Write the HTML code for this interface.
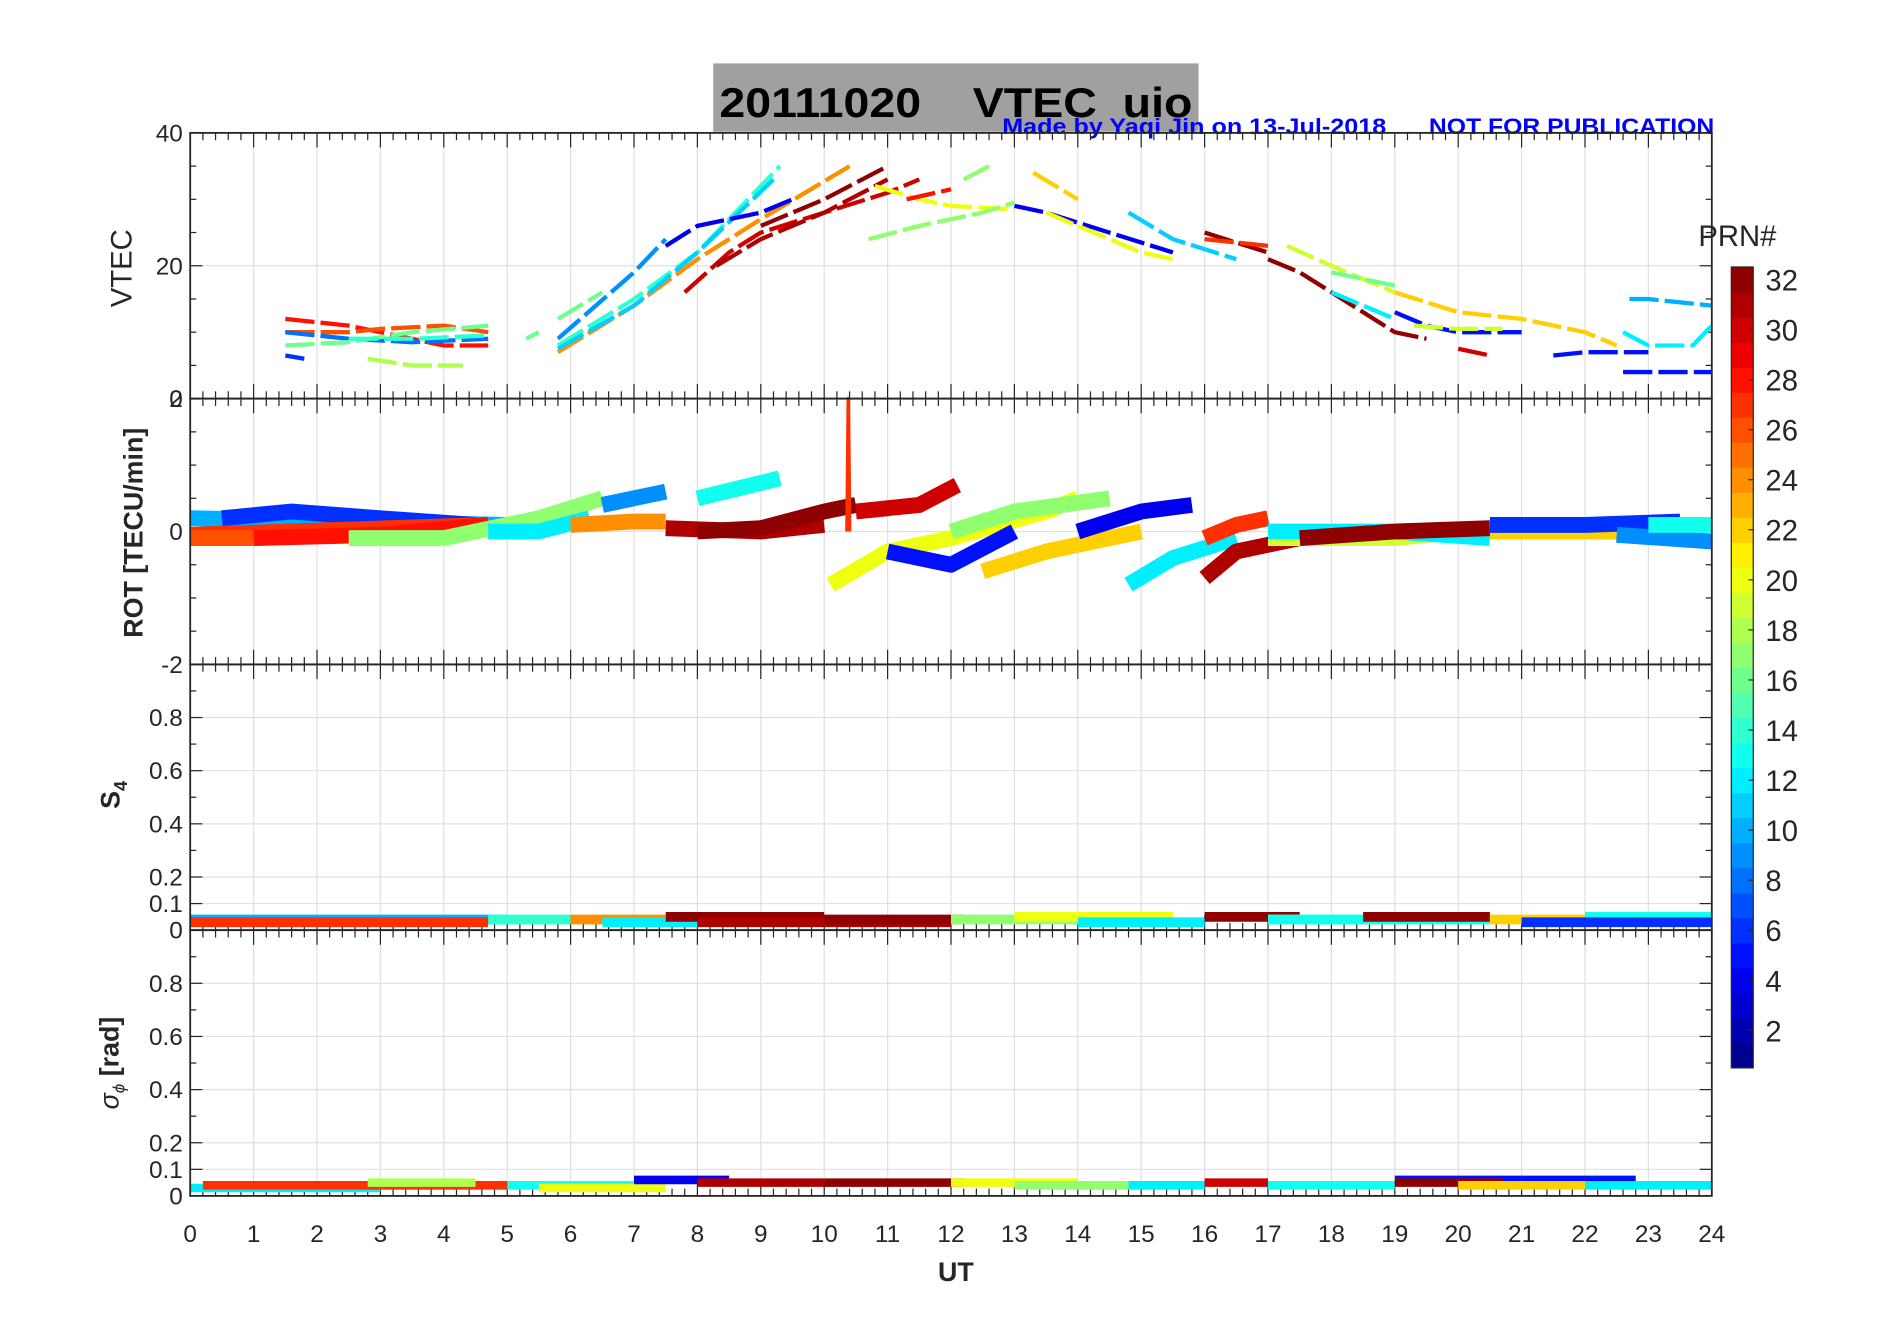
<!DOCTYPE html>
<html><head><meta charset="utf-8"><style>
html,body{margin:0;padding:0;background:#fff;}
svg{display:block;}
text{font-family:"Liberation Sans",sans-serif;}
</style></head><body>
<svg id="fig" width="1902" height="1330" viewBox="0 0 1560 1091" preserveAspectRatio="none" xmlns="http://www.w3.org/2000/svg">
<rect x="0" y="0" width="1560" height="1091" fill="#fff"/>
<rect x="585" y="52" width="398" height="56" fill="#a0a0a0"/>
<text x="590" y="96" font-size="34" font-weight="bold" fill="#000" textLength="388" lengthAdjust="spacingAndGlyphs" xml:space="preserve">20111020    VTEC  uio</text>
<text x="822" y="110" font-size="18" font-weight="bold" fill="#0000ff" textLength="315" lengthAdjust="spacingAndGlyphs">Made by Yaqi Jin on 13-Jul-2018</text>
<text x="1172" y="110" font-size="18" font-weight="bold" fill="#0000ff" textLength="234" lengthAdjust="spacingAndGlyphs">NOT FOR PUBLICATION</text>
<g id="panels"></g>
<g id="cbar"></g>
</svg>
<script>
// ---- data ----
const hourTicks = [0,1,2,3,4,5,6,7,8,9,10,11,12,13,14,15,16,17,18,19,20,21,22,23,24];
const vtecTicks = [0,20,40];
const vtecMinor = [5,10,15,25,30,35];
const rotTicks = [-2,0,2];
const rotMinor = [-1.5,-1,-0.5,0.5,1,1.5];
const s4Ticks = [0,0.1,0.2,0.4,0.6,0.8,1];
const s4TickLabels = ['0','0.1','0.2','0.4','0.6','0.8',''];
const s4Minor = [0.3,0.5,0.7,0.9];
const prnTicks = [2,4,6,8,10,12,14,16,18,20,22,24,26,28,30,32];
// VTEC arcs: [prn, [t,v]...]
const vtecArcs = [
 [28,[[1.5,12],[2.5,11],[3,10],[4,8],[4.7,8]]],
 [26,[[1.5,10],[2.5,10],[3,10.5],[4,11],[4.7,10]]],
 [8,[[1.5,10],[2.5,9],[3.5,8.5],[4.7,9]]],
 [16,[[1.5,8],[2.5,8.5],[3.5,10],[4.7,11]]],
 [18,[[2.8,6],[3.5,5],[4.3,5]]],
 [6,[[1.5,6.5],[1.8,6]]],
 [14,[[2.5,9],[3.5,9],[4.7,9.5]]],
 [16,[[5.3,9],[5.5,10]]],
 [16,[[5.8,12],[6.5,16]]],
 [9,[[5.8,9],[7,19],[7.5,24]]],
 [14,[[5.8,8],[7,15],[8,22],[9.3,35]]],
 [24,[[5.8,7],[7,14],[8,21],[9,27],[10.4,35]]],
 [11,[[5.8,7.5],[7,14],[8,22],[9.2,33]]],
 [4,[[7.5,23],[8,26],[9,28],[9.5,30]]],
 [30,[[7.8,16],[8.5,22],[9,25],[10,28],[11,31],[11.5,33]]],
 [31,[[8.3,20],[9,24],[10,28],[11,33]]],
 [32,[[9,26],[10,30],[11,35]]],
 [20,[[10.8,32],[11.5,30],[12,29],[13,28.5]]],
 [17,[[10.7,24],[11.5,26],[12.5,28],[13,29.5]]],
 [28,[[11.3,30],[12,31.5]]],
 [17,[[12.2,33],[12.6,35]]],
 [4,[[13,29],[13.5,28],[14.5,25],[15.5,22]]],
 [22,[[13.3,34],[14,30]]],
 [20,[[13.5,28],[14.5,24],[15,22],[15.5,21]]],
 [11,[[14.8,28],[15.5,24],[16.5,21]]],
 [32,[[16,25],[17,22]]],
 [27,[[16,24],[17,23]]],
 [32,[[17,21],[17.5,19],[18.5,13],[19,10],[19.5,9]]],
 [30,[[20,7.5],[20.5,6.5]]],
 [19,[[17.3,23],[18,20],[19,16]]],
 [16,[[18,19],[19,17]]],
 [22,[[19,16],[20,13],[21,12],[22,10],[22.5,8]]],
 [5,[[19,13],[19.5,11],[20,10],[21,10]]],
 [19,[[19.3,11],[20,10.5],[20.7,10.5]]],
 [12,[[18,16],[18.5,14],[19,12]]],
 [5,[[21.5,6.5],[22,7],[23,7]]],
 [10,[[22.7,15],[23,15],[24,14]]],
 [12,[[22.6,10],[23,8],[23.7,8],[24,11]]],
 [5,[[22.6,4],[23.5,4],[24,4]]]
];
// ROT bands
const rotArcs = [
 [10,[[0,0.2],[5,0.1]]],
 [6,[[0.5,0.2],[1.6,0.3],[3,0.2],[4.5,0.1]]],
 [27,[[0,-0.05],[4.7,0.1]]],
 [28,[[1,-0.1],[3,-0.05],[4.7,0.1]]],
 [26,[[0,-0.1],[1,-0.1]]],
 [17,[[2.5,-0.1],[4,-0.1],[5.5,0.2],[6.5,0.5]]],
 [12,[[4.7,0],[5.5,0],[6.3,0.2]]],
 [24,[[6,0.1],[7,0.15],[7.5,0.15]]],
 [9,[[6.5,0.4],[7.5,0.6]]],
 [13,[[8,0.5],[9.3,0.8]]],
 [31,[[7.5,0.05],[9,0],[10,0.1]]],
 [32,[[8,0],[9,0.05],[10,0.3],[10.5,0.4]]],
 [30,[[10.5,0.3],[11.5,0.4],[12.1,0.7]]],
 [20,[[10.1,-0.8],[11,-0.3],[12,-0.1],[13.5,0.3],[14,0.5]]],
 [5,[[11,-0.3],[12,-0.5],[13,0]]],
 [17,[[12,0],[13,0.3],[14.5,0.5]]],
 [22,[[12.5,-0.6],[13.5,-0.3],[15,0]]],
 [4,[[14,0],[15,0.3],[15.8,0.4]]],
 [12,[[14.8,-0.8],[15.5,-0.4],[16.5,-0.1]]],
 [27,[[16,-0.1],[16.5,0.1],[17,0.2]]],
 [31,[[16,-0.7],[16.5,-0.3],[17.5,-0.1]]],
 [19,[[17,-0.1],[19,-0.1],[20,0]]],
 [12,[[17,0],[19,0],[20.5,-0.1]]],
 [32,[[17.5,-0.1],[19,0],[20.5,0.05]]],
 [22,[[20.5,0],[22,0],[23,0]]],
 [6,[[20.5,0.1],[22,0.1],[23.5,0.15]]],
 [9,[[22.5,-0.05],[24,-0.15]]],
 [13,[[23,0.1],[24,0.1]]],
 [27,[[10.36,0],[10.38,2],[10.4,0]]]
];
// S4 segments: [prn, t0, t1, level]
const s4Segs = [
 [10,0,5,0.04],[27,0,4.7,0.03],[14,4.7,6,0.04],[24,6,7.5,0.04],[12,6.5,8,0.03],
 [32,7.5,10,0.05],[31,8,12,0.03],[32,10,12.2,0.04],[17,12,15,0.04],[20,13,15.5,0.05],
 [12,14,16,0.03],[32,16,17.5,0.05],[19,17,19,0.04],[13,17,20.5,0.04],[32,18.5,20.5,0.05],
 [22,20.5,23,0.04],[13,22,24,0.05],[6,21,24,0.03]
];
// sigma-phi segments
const sigSegs = [
 [12,0,3,0.03],[27,0.2,5,0.04],[18,2.8,4.5,0.05],[13,5,7,0.04],[20,5.5,7.5,0.03],
 [4,7,8.5,0.06],[31,8,10,0.05],[32,10,12.2,0.05],[20,12,14,0.05],[17,13,15,0.04],
 [12,14.8,16,0.04],[30,16,17,0.05],[13,17,19,0.04],[5,19,21,0.06],[32,19,20.7,0.05],
 [5,21,22.8,0.06],[22,20,23,0.04],[12,22,24,0.04]
];
// ---- layout ----
const X0=156, X1=1404;
const panels=[{top:109,bot:327},{top:327,bot:545},{top:545,bot:763},{top:763,bot:981}];
const xs=t=>X0+(X1-X0)*t/24;
const lin=(p,lo,hi)=>v=>p.bot-(p.bot-p.top)*(v-lo)/(hi-lo);
const yV=lin(panels[0],0,40);
const yR=lin(panels[1],-2,2);
function jet(prn){
  const v=(prn-0.5)/32;
  const f=x=>Math.max(0,Math.min(1,x));
  const r=f(Math.min(4*v-1.5,-4*v+4.5)),g=f(Math.min(4*v-0.5,-4*v+3.5)),b=f(Math.min(4*v+0.5,-4*v+2.5));
  return `rgb(${Math.round(r*255)},${Math.round(g*255)},${Math.round(b*255)})`;
}
const NS='http://www.w3.org/2000/svg';
const root=document.getElementById('panels');
function mk(tag,attrs,parent){const e=document.createElementNS(NS,tag);for(const k in attrs)e.setAttribute(k,attrs[k]);(parent||root).appendChild(e);return e;}
function axes(p,yf,ticks,labels,minor,name,showX){
  const g=mk('g',{});
  
  
  hourTicks.forEach(h=>{
    const l=mk('line',{x1:xs(h),x2:xs(h),y1:p.top,y2:p.bot,stroke:'#e0e0e0','stroke-width':1},g);
    
    
    mk('line',{x1:xs(h),x2:xs(h),y1:p.bot,y2:p.bot-12,stroke:'#262626'},g);
    mk('line',{x1:xs(h),x2:xs(h),y1:p.top,y2:p.top+12,stroke:'#262626'},g);
    if(h<24){for(let m=1;m<5;m++){const xm=xs(h+m/5);
      mk('line',{x1:xm,x2:xm,y1:p.bot,y2:p.bot-6,stroke:'#262626'},g);
      mk('line',{x1:xm,x2:xm,y1:p.top,y2:p.top+6,stroke:'#262626'},g);}}
    if(showX){const t=mk('text',{x:xs(h),y:1019,'font-size':20,'text-anchor':'middle',fill:'#262626'},g);t.textContent=h;
      
      }
  });
  minor.forEach(v=>{const y=yf(v);
    mk('line',{x1:X0,x2:X0+5,y1:y,y2:y,stroke:'#262626'},g);
    mk('line',{x1:X1,x2:X1-5,y1:y,y2:y,stroke:'#262626'},g);});
  ticks.forEach((v,i)=>{
    const y=yf(v);
    const l=mk('line',{x1:X0,x2:X1,y1:y,y2:y,stroke:'#e0e0e0'},g);
    
    
    mk('line',{x1:X0,x2:X0+10,y1:y,y2:y,stroke:'#262626'},g);
    mk('line',{x1:X1,x2:X1-10,y1:y,y2:y,stroke:'#262626'},g);
    const t=mk('text',{x:X0-6,y:y+7,'font-size':20,'text-anchor':'end',fill:'#262626'},g);t.textContent=labels[i];
    
    
  });
  return g;
}
function frame(p,name){const r=mk('rect',{x:X0,y:p.top,width:X1-X0,height:p.bot-p.top,fill:'none',stroke:'#262626','stroke-width':1.5});
  
  }
function poly(pts,xf,yf,prn,w,dash,name){
  const d=pts.map(q=>xf(q[0]).toFixed(1)+','+yf(q[1]).toFixed(1)).join(' ');
  const e=mk('polyline',{points:d,fill:'none',stroke:jet(prn),'stroke-width':w,'stroke-linejoin':'round','stroke-dasharray':dash||'none'});
  
  
}
// panel 1 VTEC
axes(panels[0],yV,vtecTicks,['0','20','40'],vtecMinor,'vtec',false);
vtecArcs.forEach(a=>poly(a[1],xs,yV,a[0],3.5,'24 5','vtec-arc-prn'+a[0]));
frame(panels[0],'vtec');
// panel 2 ROT
axes(panels[1],yR,rotTicks,['-2','0','2'],rotMinor,'rot',false);
rotArcs.forEach(a=>poly(a[1],xs,yR,a[0],a[1].length===3&&a[1][1][1]===2?3:13,null,'rot-band-prn'+a[0]));
frame(panels[1],'rot');
// panel 3 S4
const y3=lin(panels[2],0,1);
axes(panels[2],y3,s4Ticks,s4TickLabels,s4Minor,'s4',false);
s4Segs.forEach(s=>poly([[s[1],s[3]],[s[2],s[3]]],xs,y3,s[0],8,null,'s4-band-prn'+s[0]));
frame(panels[2],'s4');
// panel 4 sigma phi
const y4=lin(panels[3],0,1);
axes(panels[3],y4,s4Ticks,s4TickLabels,s4Minor,'sigma-phi',true);
sigSegs.forEach(s=>poly([[s[1],s[3]],[s[2],s[3]]],xs,y4,s[0],7,null,'sigma-band-prn'+s[0]));
frame(panels[3],'sigma-phi');
// axis titles
function label(txt,x,y,rot,size,bold,name){const t=mk('text',{x:x,y:y,'font-size':size,'font-weight':bold?'bold':'normal','text-anchor':'middle',fill:'#262626',transform:rot?`rotate(-90 ${x} ${y})`:''});t.innerHTML=txt;
  
  }
label('VTEC',108,220,true,24,false,'vtec-axis-title');
label('ROT [TECU/min]',117,437,true,22,true,'rot-axis-title');
label('S<tspan font-size="15" dy="6">4</tspan>',98,652,true,22,true,'s4-axis-title');
label('<tspan font-style="italic" font-weight="normal">σ</tspan><tspan font-size="14" dy="5" font-style="italic" font-weight="normal">ϕ</tspan><tspan dy="-5"> [rad]</tspan>',97,872,true,22,true,'sigma-axis-title');
label('UT',784,1051,false,22,true,'x-axis-title');
// colorbar
const cb=document.getElementById('cbar');
const CT=219,CB=876,CX=1420,CW=18;
for(let k=1;k<=32;k++){
  const y0=CB-(CB-CT)*k/32;
  const r=mk('rect',{x:CX,y:y0,width:CW,height:(CB-CT)/32+0.5,fill:jet(k)},cb);
  
  
}
mk('rect',{x:CX,y:CT,width:CW,height:CB-CT,fill:'none',stroke:'#262626'},cb);
prnTicks.forEach(v=>{
  const y=CB-(CB-CT)*(v-0.5)/32;
  mk('line',{x1:CX+CW-4,x2:CX+CW,y1:y,y2:y,stroke:'#262626'},cb);
  const t=mk('text',{x:1448,y:y+9,'font-size':24,fill:'#262626'},cb);t.textContent=v;
  
  
});
const pt=mk('text',{x:1393,y:202,'font-size':24,fill:'#262626'},cb);pt.textContent='PRN#';


</script>
</body></html>
